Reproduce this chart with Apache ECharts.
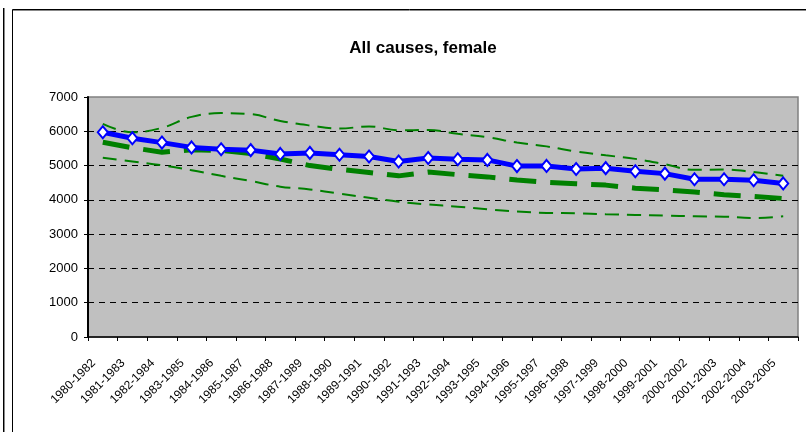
<!DOCTYPE html>
<html>
<head>
<meta charset="utf-8">
<script src="https://cdn.jsdelivr.net/npm/echarts@6/dist/echarts.min.js"></script>
<style>
html,body{margin:0;padding:0;background:#fff;}
#chart{width:806px;height:432px;}
</style>
</head>
<body>
<div id="chart"></div>
<script>
var categories = ["1980-1982","1981-1983","1982-1984","1983-1985","1984-1986","1985-1987","1986-1988","1987-1989","1988-1990","1989-1991","1990-1992","1991-1993","1992-1994","1993-1995","1994-1996","1995-1997","1996-1998","1997-1999","1998-2000","1999-2001","2000-2002","2001-2003","2002-2004","2003-2005"];
var observed = [5970,5795,5670,5530,5475,5450,5340,5370,5315,5265,5120,5220,5185,5165,4985,4990,4900,4925,4835,4765,4600,4600,4570,4480];
var expected = [5680,5520,5390,5460,5440,5350,5190,5000,4890,4800,4700,4810,4735,4670,4580,4510,4470,4430,4340,4290,4230,4150,4100,4040];
var upperLimit = [6215,5970,6100,6420,6530,6500,6300,6170,6080,6140,6030,6035,5925,5830,5670,5560,5410,5300,5195,5040,4875,4885,4810,4700];
var lowerLimit = [5225,5120,5010,4865,4700,4550,4385,4305,4180,4060,3945,3865,3800,3725,3660,3620,3610,3580,3560,3540,3520,3510,3470,3520];
var yTicks = {min:0, max:7000, interval:1000};
var titleText = "All causes, female";

var chart = echarts.init(document.getElementById('chart'), null, {renderer:'canvas'});
var font = 'Arial, "Liberation Sans", sans-serif';
chart.setOption({
  animation:false,
  backgroundColor:'#ffffff',
  title:{text:titleText,left:418,top:35,textAlign:'center',
    textStyle:{fontFamily:font,fontSize:17,fontWeight:'bold',color:'#000'}},
  graphic:[
    {type:'line',shape:{x1:3.5,y1:8,x2:3.5,y2:432},style:{stroke:'#000',lineWidth:1}},
    {type:'line',shape:{x1:4.5,y1:8,x2:4.5,y2:432},style:{stroke:'#888',lineWidth:1}},
    {type:'rect',shape:{x:12.5,y:9.5,width:820,height:440},style:{fill:'none',stroke:'#000',lineWidth:1}},
    {type:'line',shape:{x1:13,y1:10.5,x2:806,y2:10.5},style:{stroke:'#888',lineWidth:1}}
  ],
  grid:{left:88,right:8,top:97,bottom:95,show:true,backgroundColor:'#C0C0C0',borderColor:'#808080',borderWidth:1.5},
  xAxis:{type:'category',data:categories,boundaryGap:true,
    axisLine:{show:true,lineStyle:{color:'#000',width:1.5}},
    axisTick:{show:true,inside:false,length:4,lineStyle:{color:'#000'}},
    axisLabel:{rotate:45,fontFamily:font,fontSize:12,color:'#000',margin:15,padding:[0,13,0,0],interval:0},
    splitLine:{show:false}},
  yAxis:{type:'value',min:yTicks.min,max:yTicks.max,interval:yTicks.interval,
    axisLine:{show:true,lineStyle:{color:'#000',width:2}},
    axisTick:{show:true,inside:false,length:4,lineStyle:{color:'#000'}},
    axisLabel:{fontFamily:font,fontSize:13,color:'#000',margin:10,formatter:function(v){return String(v);}},
    splitLine:{show:true,showMinLine:false,showMaxLine:false,lineStyle:{color:'#000',width:1,type:[6,5]}}},
  series:[
    {name:'upper',type:'line',data:upperLimit,smooth:0.4,symbol:'none',
      lineStyle:{color:'#008000',width:2,type:[14,8]},z:2},
    {name:'lower',type:'line',data:lowerLimit,smooth:0.4,symbol:'none',
      lineStyle:{color:'#008000',width:2,type:[14,8]},z:2},
    {name:'expected',type:'line',data:expected,symbol:'none',
      lineStyle:{color:'#008000',width:5,type:[27,14]},z:3},
    {name:'observed',type:'line',data:observed,symbol:'diamond',symbolSize:[10,12],
      itemStyle:{color:'#ffffff',borderColor:'#0000FF',borderWidth:2},
      lineStyle:{color:'#0000FF',width:5},z:4}
  ]
});
</script>
</body>
</html>
